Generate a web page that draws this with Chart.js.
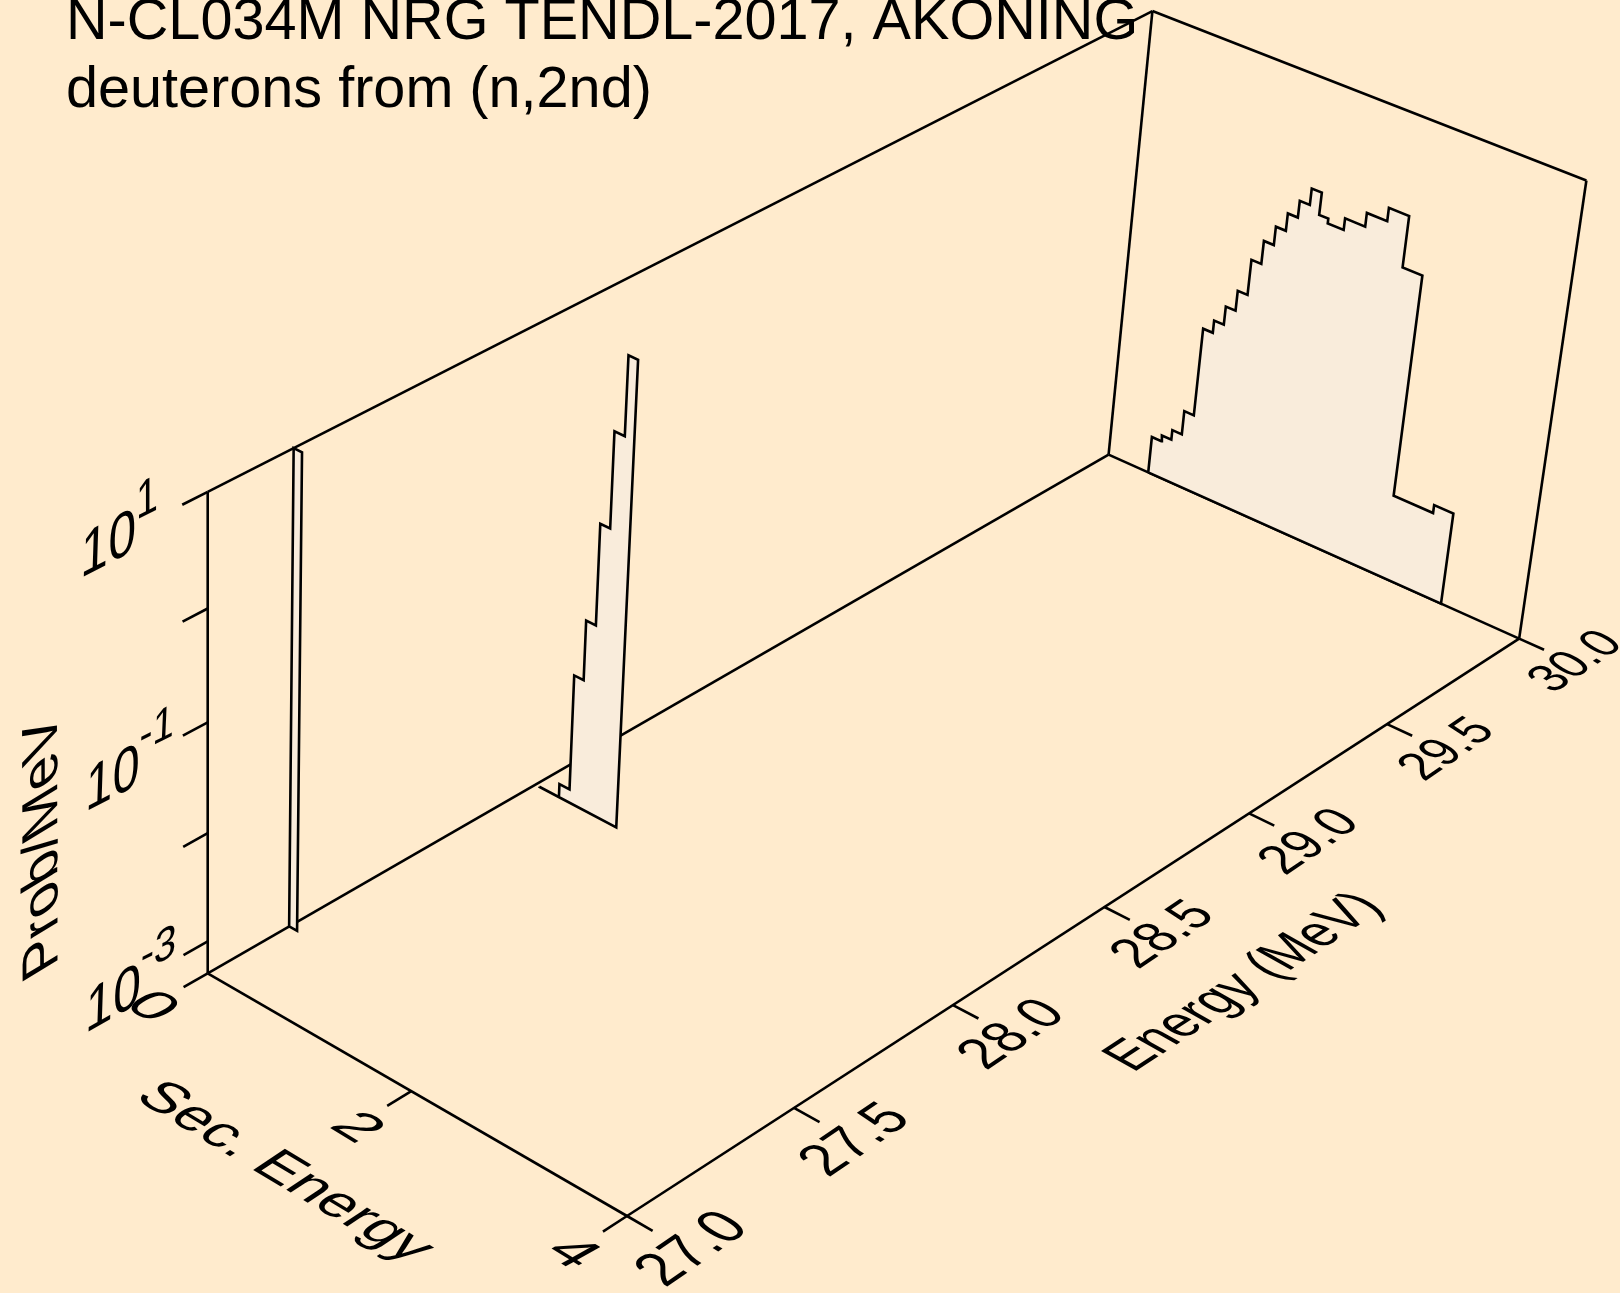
<!DOCTYPE html>
<html><head><meta charset="utf-8">
<style>html,body{margin:0;padding:0;background:#FFEBCD;overflow:hidden}canvas{display:block}</style>
<script src="https://cdn.jsdelivr.net/npm/chart.js@4/dist/chart.umd.min.js"></script>
</head><body><canvas id="c" width="1620" height="1293"></canvas>
<script>
// ---- data ----
const energyTicks=[27.0,27.5,28.0,28.5,29.0,29.5,30.0];
const secTicks=[0,2,4];
const probTicks=[1e-3,1e-2,1e-1,1,10];
const energyRange=[27,30], secRange=[0,4], probRange=[Math.pow(10,-3.3),10];

const incidentA=27.24;
const secEdgesA=[0,0.08];
const probA=[10];

const incidentB=28.0;
const secEdgesB=[0.04,0.238,0.339,0.432,0.527,0.622,0.72,0.81];
const probB=[5.01e-4,6.7e-4,8.07e-3,0.029,0.246,1.81,9.25];

const incidentC=30.0;
const secEdgesC=[0.404,0.499,0.594,0.689,0.784,0.879,0.974,1.069,1.164,1.259,1.354,1.449,1.544,1.639,1.734,1.82,1.97,2.158,2.347,2.534,2.717,3.089,3.269];
const probC=[1.14e-3,1.30e-3,1.62e-3,2.76e-3,0.0197,0.0259,0.0389,0.0605,0.131,0.217,0.324,0.472,0.678,0.964,0.596,0.537,0.689,0.923,1.227,0.409,3.22e-3,3.85e-3];

const titleLines=["N-CL034M NRG TENDL-2017, AKONING","deuterons from (n,2nd)"];

// ---- perspective view of the box ----
const O={x:207.7,y:973.3},A={x:1108.6,y:454.6},B={x:627,y:1216},C={x:207.7,y:491.8};
const ka=1.143,kb=0.944,kc=0.947;
function project(E,s,P){
  const u=(E-energyRange[0])/(energyRange[1]-energyRange[0]);
  const v=(s-secRange[0])/(secRange[1]-secRange[0]);
  const l0=Math.log10(probRange[0]),l1=Math.log10(probRange[1]);
  const w=(Math.log10(P)-l0)/(l1-l0);
  const d=1+(ka-1)*u+(kb-1)*v+(kc-1)*w;
  return {
    x:(O.x+u*(ka*A.x-O.x)+v*(kb*B.x-O.x)+w*(kc*C.x-O.x))/d,
    y:(O.y+u*(ka*A.y-O.y)+v*(kb*B.y-O.y)+w*(kc*C.y-O.y))/d
  };
}
function stepOutline(E,edges,probs){
  const f=probRange[0],pts=[project(E,edges[0],f)];
  probs.forEach((p,i)=>{pts.push(project(E,edges[i],p));pts.push(project(E,edges[i+1],p));});
  pts.push(project(E,edges[edges.length-1],f));
  pts.push(project(E,edges[0],f));
  return pts;
}
const E0=energyRange[0],E1=energyRange[1],S1=secRange[1],P0=probRange[0],P1=probRange[1];
const INK='#000000',LW=2.6;
const lineDs=(pts,order)=>({data:pts,showLine:true,fill:false,borderColor:INK,borderWidth:LW,pointRadius:0,order,clip:false,borderJoinStyle:'miter',borderCapStyle:'butt'});
const areaDs=(pts,order)=>({data:pts,showLine:true,fill:'shape',backgroundColor:'#F9ECDB',borderColor:INK,borderWidth:LW,pointRadius:0,order,clip:false,borderJoinStyle:'miter',borderCapStyle:'butt'});
const frame=[
 [[E0,0,P0],[E1,0,P0]],[[E0,0,P0],[E0,S1,P0]],[[E1,0,P0],[E1,S1,P0]],[[E0,S1,P0],[E1,S1,P0]],
 [[E0,0,P0],[E0,0,P1]],[[E1,0,P0],[E1,0,P1]],[[E1,S1,P0],[E1,S1,P1]],
 [[E0,0,P1],[E1,0,P1]],[[E1,0,P1],[E1,S1,P1]]
];
const datasets=[];
frame.forEach(s=>datasets.push(lineDs(s.map(p=>project(...p)),10)));
energyTicks.forEach(e=>datasets.push(lineDs([project(e,S1,P0),project(e,S1+0.23,P0)],10)));
secTicks.forEach(s=>datasets.push(lineDs([project(E0,s,P0),project(E0-0.07,s,P0)],10)));
probTicks.forEach(p=>datasets.push(lineDs([project(E0,0,p),project(E0-0.07,0,p)],10)));
datasets.push(areaDs(stepOutline(incidentA,secEdgesA,probA),3));
datasets.push(areaDs(stepOutline(incidentB,secEdgesB,probB),2));
datasets.push(areaDs(stepOutline(incidentC,secEdgesC,probC),1));

// ---- text laid in the planes of the box: start, end of baseline, and glyph-height vector ----
const planarText=[
 ["Energy (MeV)",1133,1073,1385,908,-36.8,-20.7],
 ["Sec. Energy",133,1098,410,1264,33,-22],
 ["Prob/MeV",57.5,965,57,709,-36.3,22],
 ["30.0",1553,694,1625,645,-32,-19],
 ["29.5",1424,782,1497,732,-33,-19],
 ["29.0",1285,876,1362,824,-34,-20],
 ["28.5",1138,970,1217,916,-35,-20.5],
 ["28.0",986,1071,1068,1015,-36,-21],
 ["27.5",828,1178,913,1120,-37,-22],
 ["27.0",665,1288,751,1229,-38,-23],
 ["0",122.5,1005.3,152.5,1023.8,35,-19],
 ["2",327.5,1126.3,357.5,1144.8,35,-19],
 ["4",542.5,1252,572.5,1270.5,36,-20],
 ["10",80,578.4,135.4,549.8,1.5,-46],["1",136,520,158,509,0,-37],
 ["10",85,812,139,784,1.5,-45],["-1",139,752,173.5,735,1.5,-34],
 ["10",84.8,1033.8,140.4,1002,1.5,-44],["-3",140,972,175.5,954.5,2,-34]
];
const textPlugin={id:'boxText',afterDatasetsDraw(chart){
  const ctx=chart.ctx;
  ctx.save();
  ctx.fillStyle='#000';ctx.textBaseline='alphabetic';ctx.textAlign='left';
  ctx.font='57.6px "Liberation Sans"';
  ctx.fillText(titleLines[0],66,39);
  ctx.fillText(titleLines[1],66,107);
  ctx.font='100px "Liberation Sans"';
  planarText.forEach(([t,sx,sy,ex,ey,ux,uy])=>{
    const w=ctx.measureText(t).width,cap=71.6;
    ctx.save();
    ctx.transform((ex-sx)/w,(ey-sy)/w,-ux/cap,-uy/cap,sx,sy);
    ctx.fillText(t,0,0);
    ctx.restore();
  });
  ctx.restore();
}};
new Chart(document.getElementById('c'),{
  type:'scatter',
  data:{datasets},
  options:{
    responsive:false,animation:false,
    layout:{padding:0},
    plugins:{legend:{display:false},title:{display:false},tooltip:{enabled:false}},
    scales:{
      x:{type:'linear',display:false,min:0,max:1620},
      y:{type:'linear',display:false,min:0,max:1293,reverse:true}
    }
  },
  plugins:[textPlugin]
});
</script></body></html>
